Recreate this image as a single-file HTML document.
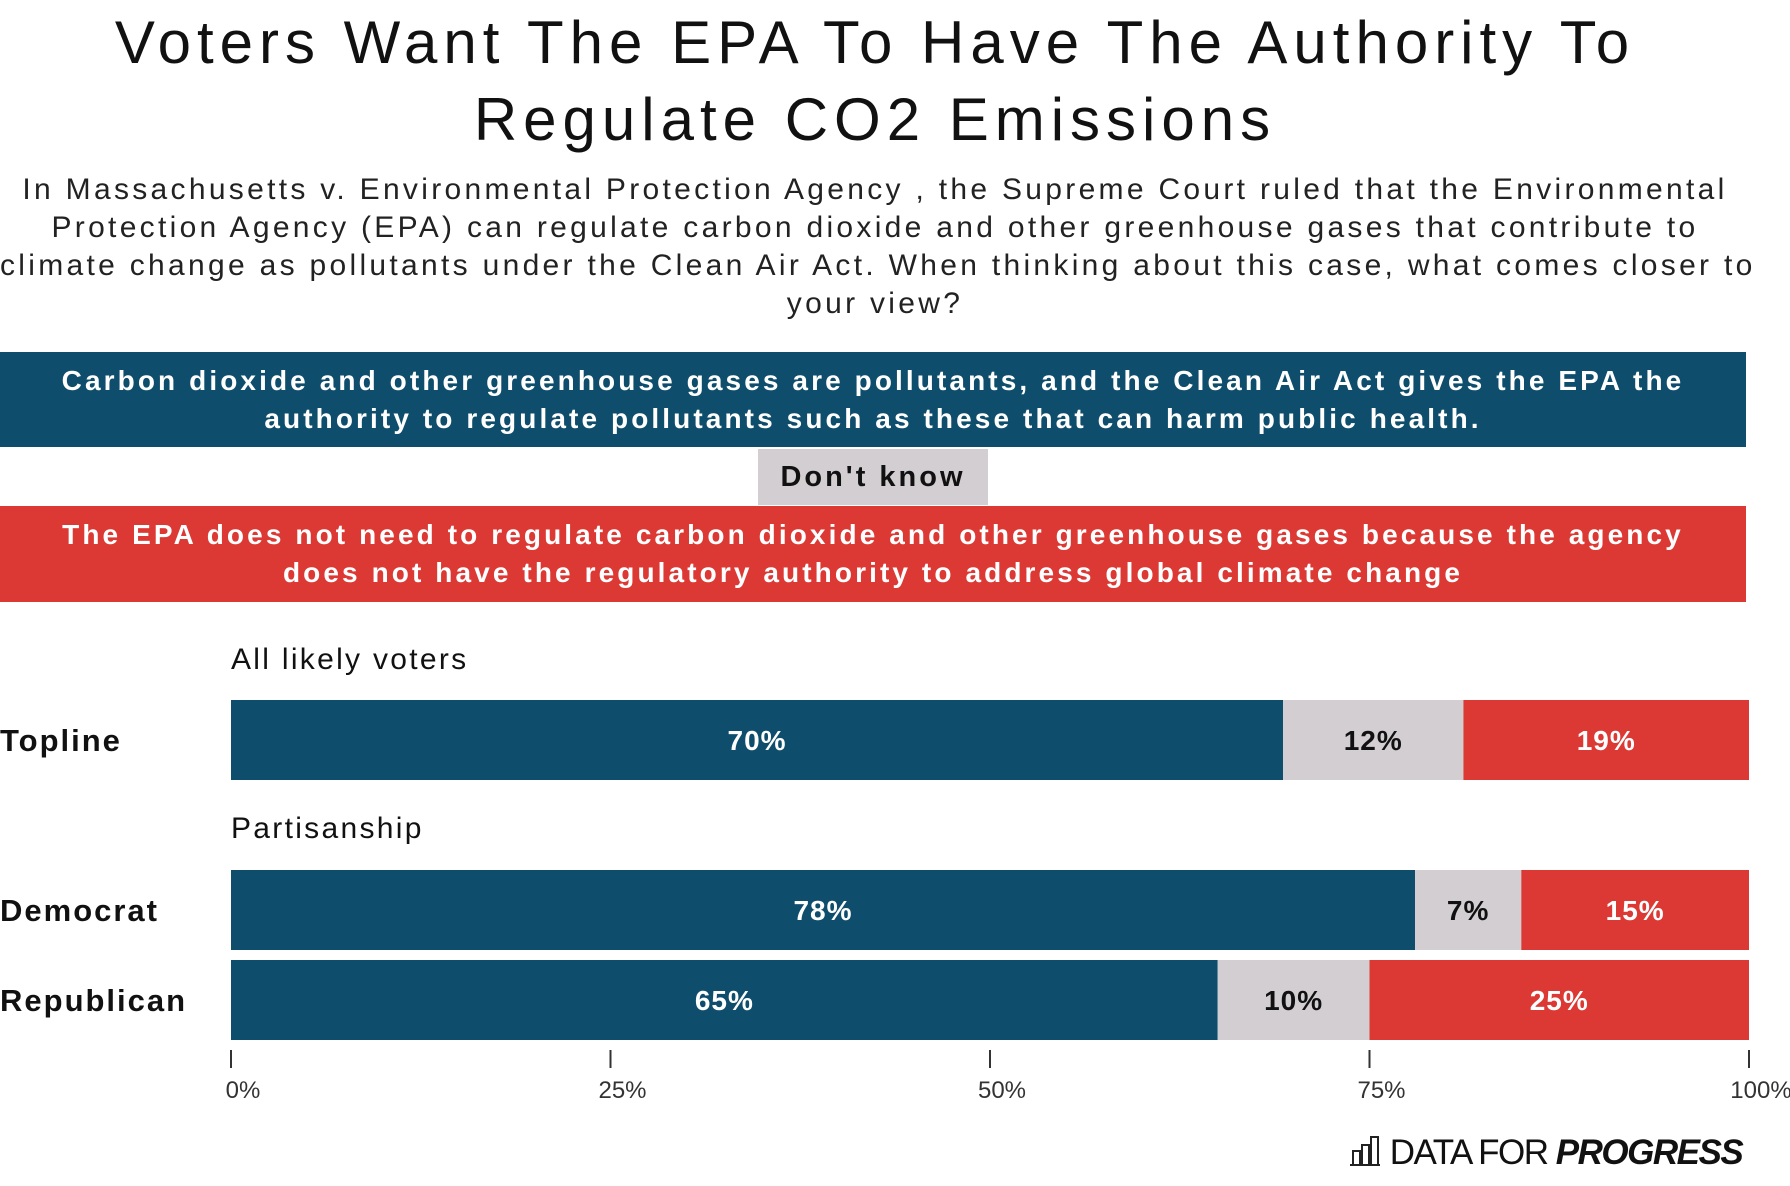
<!DOCTYPE html>
<html><head><meta charset="utf-8"><style>
body{margin:0;width:1790px;height:1186px;background:#fff;font-family:"Liberation Sans",sans-serif;position:relative;overflow:hidden;color:#111}
.abs{position:absolute}
.c{text-align:center}
</style></head><body>
<div class="abs c" style="left:0;width:1750px;top:4px;font-size:60px;line-height:77px;color:#111;letter-spacing:6px;white-space:nowrap">Voters Want The EPA To Have The Authority To<br>Regulate CO2 Emissions</div>
<div class="abs c" style="left:0;width:1750px;top:171px;font-size:30px;line-height:38px;color:#222;letter-spacing:3.3px;white-space:nowrap">In Massachusetts v. Environmental Protection Agency , the Supreme Court ruled that the Environmental<br>Protection Agency (EPA) can regulate carbon dioxide and other greenhouse gases that contribute to<br>climate change as pollutants under the Clean Air Act. When thinking about this case, what comes closer to<br>your view?</div>
<div class="abs c" style="left:0;width:1746px;top:352px;height:95px;background:#0e4d6b;color:#fff;font-weight:bold;font-size:28px;line-height:38px;box-sizing:border-box;padding-top:10px;letter-spacing:3.1px;white-space:nowrap">Carbon dioxide and other greenhouse gases are pollutants, and the Clean Air Act gives the EPA the<br>authority to regulate pollutants such as these that can harm public health.</div>
<div class="abs c" style="left:758px;width:230px;top:449px;height:56px;background:#d2ced2;font-weight:bold;font-size:29px;line-height:56px;letter-spacing:3px">Don't know</div>
<div class="abs c" style="left:0;width:1746px;top:506px;height:96px;background:#dc3934;color:#fff;font-weight:bold;font-size:28px;line-height:38px;box-sizing:border-box;padding-top:10px;letter-spacing:3.1px;white-space:nowrap">The EPA does not need to regulate carbon dioxide and other greenhouse gases because the agency<br>does not have the regulatory authority to address global climate change</div>
<div class="abs" style="left:231px;top:643px;font-size:30px;letter-spacing:2.3px">All likely voters</div>
<div class="abs" style="left:231px;top:812px;font-size:30px;letter-spacing:2.3px">Partisanship</div>
<svg id="chart" class="abs" style="left:0;top:0" width="1790" height="1186"></svg>
<div class="abs" style="left:1350px;top:1131px;font-size:35px;line-height:44px;white-space:nowrap">
<span style="display:inline-block;width:30px;height:28px;vertical-align:-2px;border-bottom:2px solid #222;position:relative"><span style="position:absolute;left:2px;bottom:0;width:5px;height:12px;border:2px solid #222;border-bottom:none"></span><span style="position:absolute;left:11px;bottom:0;width:5px;height:18px;border:2px solid #222;border-bottom:none"></span><span style="position:absolute;left:20px;bottom:0;width:5px;height:26px;border:2px solid #222;border-bottom:none"></span></span>
<span style="letter-spacing:-1.5px">DATA FOR <b><i>PROGRESS</i></b></span></div>
<script>
const categories=["Topline","Democrat","Republican"];
const supportVals=[70,78,65];
const dontKnowVals=[12,7,10];
const opposeVals=[19,15,25];
const tickVals=[0,25,50,75,100];
const tickLabels=["0%","25%","50%","75%","100%"];
const svg=document.getElementById('chart');
const NS='http://www.w3.org/2000/svg';
const X0=231,X1=1749;
const x=v=>X0+(X1-X0)*v/100;
const rowTop=[700,870,960],rowH=80;
const colors=["#0e4d6b","#d2ced2","#dc3934"],tcol=["#fff","#111","#fff"];
function mk(t,a){const e=document.createElementNS(NS,t);for(const k in a)e.setAttribute(k,a[k]);svg.appendChild(e);return e;}
categories.forEach((c,i)=>{
  const vals=[supportVals[i],dontKnowVals[i],opposeVals[i]];
  const tot=vals.reduce((a,b)=>a+b,0);
  let cum=0;
  const lab=mk('text',{x:0,y:rowTop[i]+rowH/2+11,'font-size':31,'font-weight':'bold','letter-spacing':2,'font-family':'Liberation Sans, sans-serif',fill:'#111'});
  lab.textContent=c;
  
  
  vals.forEach((v,j)=>{
    const a=x(cum/tot*100),b=x((cum+v)/tot*100);cum+=v;
    const r=mk('rect',{x:a,y:rowTop[i],width:b-a,height:rowH,fill:colors[j]});
    
    
    const t=mk('text',{x:(a+b)/2,y:rowTop[i]+rowH/2+10,'text-anchor':'middle','font-size':28,'font-weight':'bold','letter-spacing':1,'font-family':'Liberation Sans, sans-serif',fill:tcol[j]});
    t.textContent=v+'%';
    
    
  });
});
tickVals.forEach((v,i)=>{
  const l=mk('line',{x1:x(v),x2:x(v),y1:1050,y2:1068,stroke:'#333','stroke-width':2});
  
  
  const t=mk('text',{x:x(v)+12,y:1098,'text-anchor':'middle','font-size':24,'font-family':'Liberation Sans, sans-serif',fill:'#333'});
  t.textContent=tickLabels[i];
  
  
});
</script>
</body></html>
